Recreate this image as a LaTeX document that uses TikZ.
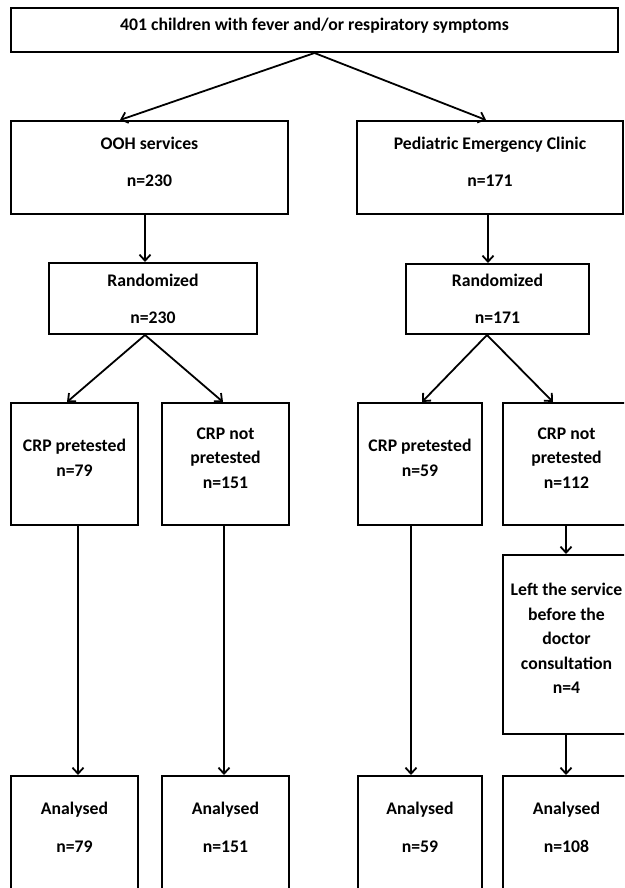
\documentclass[tikz,border=0pt]{standalone}
\usepackage{fontspec}
\setmainfont{Carlito}
\usetikzlibrary{arrows.meta, positioning}
\def\boxfont{\fontsize{17.7}{24.5}\selectfont\bfseries}

\begin{document}
\begin{tikzpicture}[x=1pt, y=-1pt, line width=2pt]
    \tikzstyle{box}=[draw, align=center, inner sep=0pt, font=\boxfont, text depth=12pt]
    \tikzstyle{rand box}=[box, text depth=0pt]
    \tikzstyle{crp box}=[box, minimum height=122pt]
    \tikzstyle{ana box}=[box, minimum height=114pt]
    \tikzstyle{arr}=[-{Straight Barb[length=6pt,width=11pt]}, line width=1.8pt]

    \useasboundingbox (0,0) rectangle (624,888);
    \clip (0,0) rectangle (624,888);

    % Draw the first box
    \node[box, minimum width=607pt, minimum height=44pt] (all) at (314.5,30)
        {401 children with fever and/or respiratory symptoms};

    % Draw the two services
    \node[box, minimum width=277pt, minimum height=93pt] (ooh) at (149.5,167.5)
        {OOH services\\[12.5pt]n=230};
    \node[box, minimum width=266pt, minimum height=93pt] (pec) at (490,167.5)
        {Pediatric Emergency Clinic\\[12.5pt]n=171};

    % Draw the randomization boxes
    \node[rand box, minimum width=208pt, minimum height=71pt] (randL) at (153,298.5)
        {Randomized\\[12.5pt]n=230};
    \node[rand box, minimum width=183pt, minimum height=70pt] (randR) at (497.5,299)
        {Randomized\\[12.5pt]n=171};

    % Draw the CRP boxes
    \node[crp box, minimum width=127pt] (crpA) at (74.5,464) {CRP pretested\\n=79};
    \node[crp box, minimum width=127pt] (crpB) at (225.5,464) {CRP not\\pretested\\n=151};
    \node[crp box, minimum width=124pt] (crpC) at (420,464) {CRP pretested\\n=59};
    \node[crp box, minimum width=127pt] (crpD) at (566.5,464) {CRP not\\pretested\\n=112};

    % Draw the drop-out box
    \node[box, minimum width=127pt, minimum height=179pt] (left) at (566.5,644.5)
        {Left the service\\before the\\doctor\\consultation\\n=4};

    % Draw the analysed boxes
    \foreach \name/\x/\w/\n in {anaA/74.5/127/79, anaB/225.5/127/151, anaC/420/124/59, anaD/566.5/127/108}
        \node[ana box, minimum width=\w pt] (\name) at (\x,833) {Analysed\\[13.5pt]n=\n};

    % Connect the first box with the services
    \draw[arr] (all.south) -- ([xshift=-29.5pt]ooh.north);
    \draw[arr] (all.south) -- ([xshift=-4pt]pec.north);

    % Connect the services with the randomization
    \draw[arr] ([xshift=-4.5pt]ooh.south) -- ([xshift=-8pt]randL.north);
    \draw[arr] ([xshift=-2pt]pec.south) -- ([xshift=-9.5pt]randR.north);

    % Connect the randomization with the CRP boxes
    \draw[arr] ([xshift=-8pt]randL.south) -- ([xshift=-7.5pt]crpA.north);
    \draw[arr] ([xshift=-8pt]randL.south) -- ([xshift=-2.5pt]crpB.north);
    \draw[arr] ([xshift=-10.5pt]randR.south) -- ([xshift=2pt]crpC.north);
    \draw[arr] ([xshift=-10.5pt]randR.south) -- ([xshift=-13.5pt]crpD.north);

    % Connect the CRP boxes down to the analysed boxes
    \foreach \source/\dest/\dx in {crpA/anaA/3.5, crpB/anaB/-1.5, crpC/anaC/-9, crpD/left/-0.5, left/anaD/-0.5}
        \draw[arr] ([xshift=\dx pt]\source.south) -- ([xshift=\dx pt]\dest.north);
\end{tikzpicture}
\end{document}
